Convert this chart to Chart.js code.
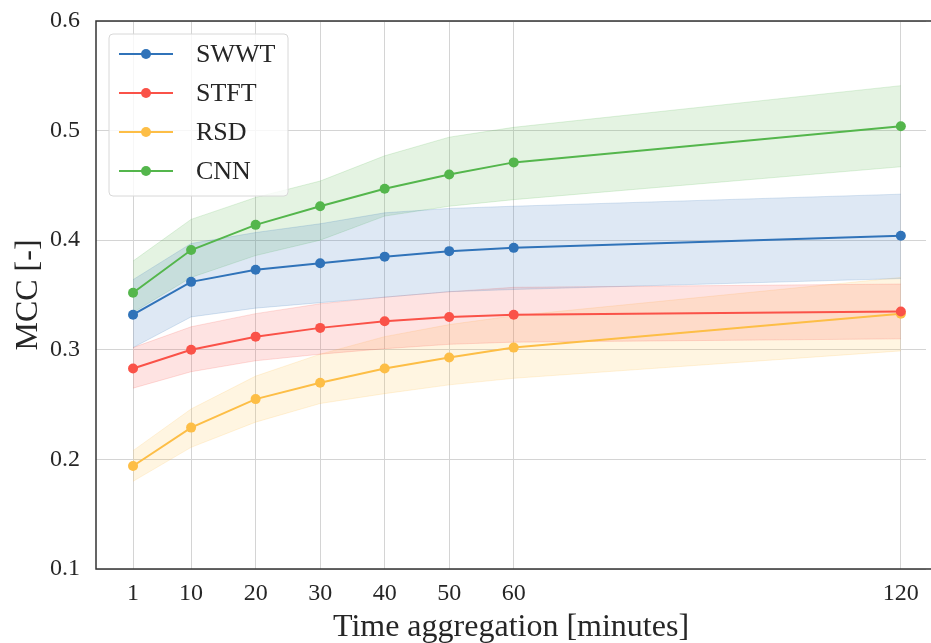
<!DOCTYPE html>
<html>
<head>
<meta charset="utf-8">
<script src="https://cdn.jsdelivr.net/npm/chart.js@4.4.0/dist/chart.umd.min.js"></script>
<style>
  html, body { margin: 0; padding: 0; background: #fff; overflow: hidden; }
  #mccChart { display: block; }
</style>
</head>
<body>
<canvas id="mccChart" width="931" height="643"></canvas>
<script>
// aggregation windows (minutes) and y ticks
const minutes = [1, 10, 20, 30, 40, 50, 60, 120];
const yTicks = [0.1, 0.2, 0.3, 0.4, 0.5, 0.6];

// mean MCC per method
const swwt = [0.332, 0.362, 0.373, 0.379, 0.385, 0.390, 0.393, 0.404];
const stft = [0.283, 0.300, 0.312, 0.320, 0.326, 0.330, 0.332, 0.335];
const rsd  = [0.194, 0.229, 0.255, 0.270, 0.283, 0.293, 0.302, 0.333];
const cnn  = [0.352, 0.391, 0.414, 0.431, 0.447, 0.460, 0.471, 0.504];

// spread (lower / upper) per method
const swwtLow  = [0.302, 0.330, 0.338, 0.343, 0.348, 0.353, 0.355, 0.365];
const swwtHigh = [0.364, 0.397, 0.407, 0.415, 0.425, 0.429, 0.431, 0.442];
const stftLow  = [0.265, 0.280, 0.290, 0.296, 0.301, 0.305, 0.307, 0.310];
const stftHigh = [0.302, 0.321, 0.333, 0.342, 0.348, 0.353, 0.357, 0.360];
const rsdLow   = [0.180, 0.211, 0.234, 0.251, 0.260, 0.268, 0.274, 0.299];
const rsdHigh  = [0.208, 0.246, 0.276, 0.296, 0.312, 0.323, 0.331, 0.366];
const cnnLow   = [0.334, 0.366, 0.386, 0.400, 0.422, 0.431, 0.437, 0.467];
const cnnHigh  = [0.381, 0.419, 0.439, 0.454, 0.477, 0.494, 0.503, 0.541];

const methods = [
   { name: 'SWWT', color: '48, 115, 185', mean: swwt, low: swwtLow, high: swwtHigh },
   { name: 'STFT', color: '250, 82, 72', mean: stft, low: stftLow, high: stftHigh },
   { name: 'RSD',  color: '253, 190, 70', mean: rsd, low: rsdLow, high: rsdHigh },
   { name: 'CNN',  color: '84, 182, 76', mean: cnn, low: cnnLow, high: cnnHigh }
];

const FONT = '"Liberation Serif", "DejaVu Serif", serif';
const toXY = (arr) => arr.map((v, i) => ({ x: minutes[i], y: v }));

// bands first (upper filled down to lower), then the mean lines on top
const datasets = [];
methods.forEach(m => {
   datasets.push({
      label: m.name + '_high',
      data: toXY(m.high),
      borderColor: `rgba(${m.color}, 0.18)`,
      borderWidth: 1,
      backgroundColor: `rgba(${m.color}, 0.16)`,
      pointRadius: 0,
      fill: '+1',
      order: 2
   });
   datasets.push({
      label: m.name + '_low',
      data: toXY(m.low),
      borderColor: `rgba(${m.color}, 0.18)`,
      borderWidth: 1,
      pointRadius: 0,
      fill: false,
      order: 2
   });
});
methods.forEach(m => {
   datasets.push({
      label: m.name,
      data: toXY(m.mean),
      borderColor: `rgb(${m.color})`,
      backgroundColor: `rgb(${m.color})`,
      borderWidth: 2,
      pointRadius: 5,
      pointBorderWidth: 0,
      fill: false,
      order: 1
   });
});

// left, top and bottom spines (the right one sits past the canvas edge)
const framePlugin = {
   id: 'frame',
   afterDatasetsDraw(chart) {
      const { ctx, chartArea: a } = chart;
      ctx.save();
      ctx.strokeStyle = '#333';
      ctx.lineWidth = 1.5;
      ctx.beginPath();
      ctx.moveTo(chart.width, a.top);
      ctx.lineTo(a.left, a.top);
      ctx.lineTo(a.left, a.bottom);
      ctx.lineTo(chart.width, a.bottom);
      ctx.stroke();
      ctx.restore();
   }
};

// legend box in the upper-left corner
const legendPlugin = {
   id: 'boxLegend',
   afterDraw(chart) {
      const { ctx, chartArea: a } = chart;
      const x0 = a.left + 13, y0 = a.top + 13;
      const w = 179, h = 162, r = 4;
      ctx.save();
      ctx.fillStyle = 'rgba(255,255,255,0.8)';
      ctx.strokeStyle = '#d8d8d8';
      ctx.lineWidth = 1;
      ctx.beginPath();
      ctx.roundRect(x0, y0, w, h, r);
      ctx.fill();
      ctx.stroke();
      ctx.font = `26px ${FONT}`;
      ctx.textBaseline = 'middle';
      methods.forEach((m, i) => {
         const y = y0 + 20 + i * 39;
         ctx.strokeStyle = `rgb(${m.color})`;
         ctx.fillStyle = `rgb(${m.color})`;
         ctx.lineWidth = 2;
         ctx.beginPath();
         ctx.moveTo(x0 + 10, y);
         ctx.lineTo(x0 + 64, y);
         ctx.stroke();
         ctx.beginPath();
         ctx.arc(x0 + 37, y, 5, 0, Math.PI * 2);
         ctx.fill();
         ctx.fillStyle = '#262626';
         ctx.fillText(m.name, x0 + 87, y + 1);
      });
      ctx.restore();
   }
};

const ctx = document.getElementById('mccChart').getContext('2d');
new Chart(ctx, {
   type: 'line',
   data: { datasets },
   options: {
      responsive: false,
      animation: false,
      layout: { padding: { top: 21, right: 0, left: 0, bottom: 0 } },
      plugins: {
         legend: { display: false },
         tooltip: { enabled: false }
      },
      scales: {
         x: {
            type: 'linear',
            min: -4.74,
            max: 123.9,
            afterBuildTicks: (scale) => {
               scale.ticks = minutes.map(v => ({ value: v }));
            },
            afterFit: (scale) => {
               scale.height = 74;
               scale.paddingLeft = 0;
               scale.paddingRight = 0;
            },
            grid: { color: '#d4d4d4', lineWidth: 1, drawTicks: false },
            border: { display: false },
            ticks: {
               padding: 10,
               color: '#262626',
               font: { family: FONT, size: 24 },
               callback: (v) => String(v)
            },
            title: {
               display: true,
               text: 'Time aggregation [minutes]',
               color: '#262626',
               font: { family: FONT, size: 32 },
               padding: { top: 0, bottom: -4 }
            }
         },
         y: {
            min: 0.1,
            max: 0.6,
            afterBuildTicks: (scale) => {
               scale.ticks = yTicks.map(v => ({ value: v }));
            },
            afterFit: (scale) => {
               scale.width = 96;
               scale.paddingTop = 0;
               scale.paddingBottom = 0;
            },
            grid: { color: '#d4d4d4', lineWidth: 1, drawTicks: false },
            border: { display: false },
            ticks: {
               padding: 16,
               color: '#262626',
               font: { family: FONT, size: 24 },
               callback: (v) => v.toFixed(1)
            },
            title: {
               display: true,
               text: 'MCC [-]',
               color: '#262626',
               font: { family: FONT, size: 32 },
               padding: { top: 9, bottom: 0 }
            }
         }
      }
   },
   plugins: [framePlugin, legendPlugin]
});
</script>
</body>
</html>
